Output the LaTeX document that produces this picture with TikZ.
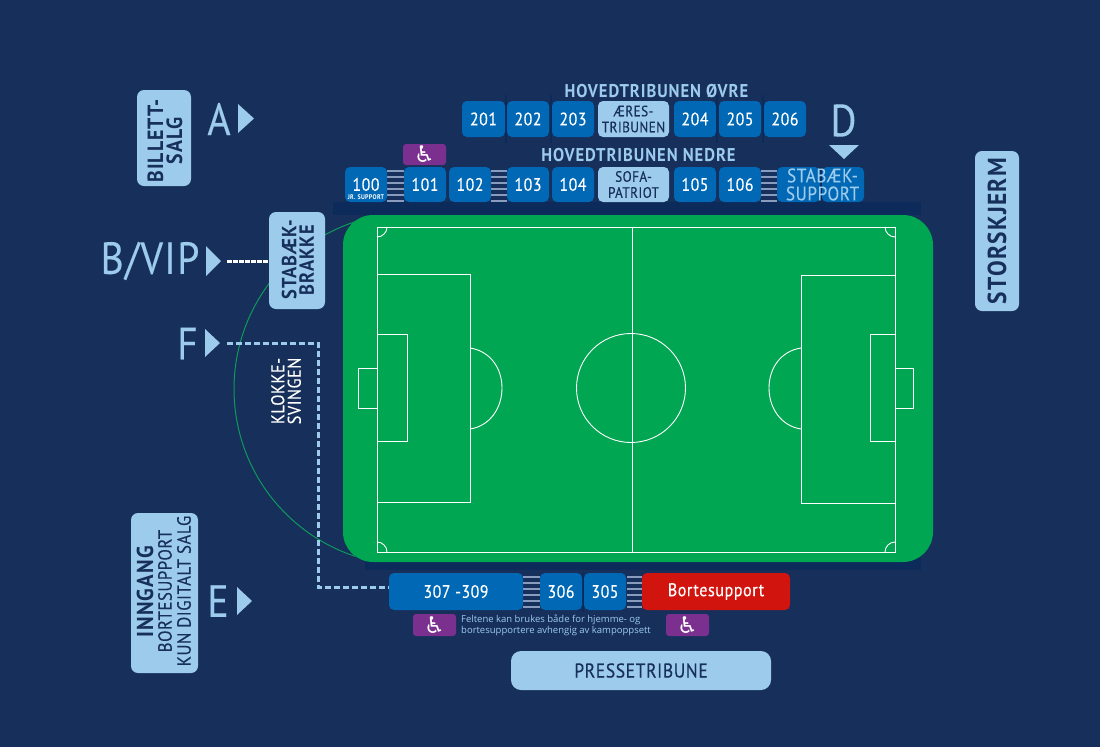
\documentclass[tikz,border=0pt]{standalone}
\usepackage{fontspec}
\setmainfont{PT Sans}
\newfontfamily\din[FakeStretch=0.88,LetterSpace=3,FakeBold=0.25]{PT Sans}
\newfontfamily\dinb[FakeStretch=0.9,LetterSpace=5,BoldFont={PT Sans Bold}]{PT Sans Bold}
\newfontfamily\icons{DejaVu Sans}
\newfontfamily\smalltxt{Open Sans}
\definecolor{bg}{HTML}{172F5B}
\definecolor{darkstrip}{HTML}{0C2A5A}
\definecolor{pitch}{HTML}{00A651}
\definecolor{arcgreen}{HTML}{0E9A5A}
\definecolor{tileblue}{HTML}{0068B4}
\definecolor{lightblue}{HTML}{9CCBEC}
\definecolor{purp}{HTML}{7B2F8E}
\definecolor{redt}{HTML}{D2140F}
\definecolor{stair}{HTML}{8A9CBE}
\newcommand{\fsz}[1]{\fontsize{#1}{#1}\selectfont}
\newcommand{\bx}[7]{% name, x0,y0,x1,y1, style, text
  \pgfmathsetmacro{\bw}{#4-#2}\pgfmathsetmacro{\bh}{#5-#3}
  \node[#6,minimum width=\bw pt,minimum height=\bh pt] (#1) at ({(#2+#4)/2},{(#3+#5)/2}) {#7};}
\newcommand{\stairs}[4]{% x0,x1,y0,y1
  \pgfmathsetmacro{\sstep}{(#4-#3)/5}
  \foreach \k in {0,...,5} {\draw[stairline] (#1,{#3+\k*\sstep}) -- (#2,{#3+\k*\sstep});}}
\tikzset{
  x=1pt,y=-1pt,
  boxbase/.style={rounded corners=5pt,inner sep=0pt,outer sep=0pt,align=center},
  tile/.style={boxbase,fill=tileblue,text=white,font=\din\fsz{18}},
  ltile/.style={boxbase,fill=lightblue,text=bg,font=\din\fsz{15}},
  sidebox/.style={boxbase,rounded corners=7pt,fill=lightblue,text=bg},
  wheel/.style={boxbase,rounded corners=3pt,fill=purp,text=white,font=\icons\fsz{23}},
  gate/.style={text=lightblue,inner sep=0pt,font=\din\fsz{45}},
  head/.style={text=lightblue,inner sep=0pt,font=\dinb\fsz{18.5}},
  fieldline/.style={draw=white,line width=0.9pt},
  stairline/.style={draw=stair,line width=1.1pt},
  dashw/.style={draw=white,line width=3pt,dash pattern=on 4.5pt off 1.5pt},
  dashb/.style={draw=lightblue,line width=3pt,dash pattern=on 6pt off 3pt},
  tri/.style={fill=lightblue},
  divider/.style={draw=darkstrip,line width=1.2pt},
}
\begin{document}
\begin{tikzpicture}
\fill[bg] (0,0) rectangle (1100,747);
\useasboundingbox (0,0) rectangle (1100,747);
% strips behind pitch
\fill[darkstrip] (333,202) rectangle (921,215);
\fill[darkstrip] (365,555) rectangle (921,570);
% curve behind the goal
\begin{scope}
\clip (200,200) rectangle (355,570);
\draw[arcgreen,line width=1pt] (410,389) circle (176);
\end{scope}
% pitch
\fill[pitch,rounded corners=30pt] (343,215) rectangle (933,562);
\draw[fieldline] (377,227) rectangle (895,552);
\draw[fieldline] (632,227) -- (632,552);
\draw[fieldline] (631,388) circle (54.5);
\draw[fieldline] (377,274) rectangle (470,502);
\draw[fieldline] (377,334) rectangle (407,441);
\draw[fieldline] (358,368) rectangle (377,408);
\draw[fieldline] (470,348) .. controls (490,351) and (502,368) .. (502,388) .. controls (502,408) and (490,426) .. (470,429);
\draw[fieldline] (801,275) rectangle (895,503);
\draw[fieldline] (870,334) rectangle (895,441);
\draw[fieldline] (895,368) rectangle (913,408);
\draw[fieldline] (801,348) .. controls (781,351) and (769,368) .. (769,388) .. controls (769,408) and (781,426) .. (801,429);
\draw[fieldline] (387,227) .. controls (387,232.5) and (382.5,237) .. (377,237);
\draw[fieldline] (885,227) .. controls (885,232.5) and (889.5,237) .. (895,237);
\draw[fieldline] (387,552) .. controls (387,546.5) and (382.5,542) .. (377,542);
\draw[fieldline] (885,552) .. controls (885,546.5) and (889.5,542) .. (895,542);
% dividers upper row
\foreach \x in {506,551,717,763} {\draw[divider] (\x,95) -- (\x,143);}
\draw[divider] (821,167) -- (821,202);
\draw[divider] (583,573) -- (583,612);
% stairs
\stairs{387}{404}{171}{201}
\stairs{491}{507}{171}{201}
\stairs{761}{777}{171}{201}
\stairs{523}{540}{577}{607}
\stairs{627}{642}{577}{607}
% heading
\node[head] (h1) at (656.5,91) {HOVEDTRIBUNEN ØVRE};
\node[head] (h2) at (638.5,155) {HOVEDTRIBUNEN NEDRE};
% upper row
\bx{t201}{462}{101}{505}{137}{tile}{201}
\bx{t202}{507}{101}{549}{137}{tile}{202}
\bx{t203}{552}{101}{594}{137}{tile}{203}
\bx{tae}{598}{101}{669}{137}{ltile}{ÆRES-\\[1pt]TRIBUNEN}
\bx{t204}{674}{101}{716}{137}{tile}{204}
\bx{t205}{719}{101}{761}{137}{tile}{205}
\bx{t206}{764}{101}{806}{137}{tile}{206}
% lower row
\bx{t100}{345}{167}{387}{202}{tile}{}
\node[text=white,inner sep=0pt,font=\din\fsz{18}] (t100a) at (366,184.5) {100};
\node[text=white,inner sep=0pt,font=\dinb\fsz{6.7}] (t100b) at (366,197) {JR. SUPPORT};
\bx{t101}{404}{167}{446}{202}{tile}{101}
\bx{t102}{449}{167}{491}{202}{tile}{102}
\bx{t103}{507}{167}{549}{202}{tile}{103}
\bx{t104}{552}{167}{594}{202}{tile}{104}
\bx{tso}{598}{167}{669}{202}{ltile}{SOFA-\\[1pt]PATRIOT}
\bx{t105}{674}{167}{716}{202}{tile}{105}
\bx{t106}{719}{167}{761}{202}{tile}{106}
\bx{tsa}{777}{167}{820}{202}{tile}{}
\bx{tsb}{822}{167}{864}{202}{tile}{}
\node[text=lightblue,inner sep=0pt,align=center,font=\din\fsz{19.5}] (tst) at (822.5,184.5) {STABÆK-\\[-1.5pt]SUPPORT};
\bx{w1}{403}{144}{446}{165}{wheel}{♿}
% bottom row
\bx{t307}{389}{573}{523}{610}{tile}{307 -309}
\bx{t306}{540}{573}{582}{610}{tile}{306}
\bx{t305}{584}{573}{626}{610}{tile}{305}
\bx{tbo}{642}{573}{790}{610}{boxbase,fill=redt,text=white,font=\din\fsz{18.3}}{Bortesupport}
\bx{w2}{413}{614}{456}{636}{wheel}{♿}
\bx{w3}{666}{614}{709}{636}{wheel}{♿}
\node[anchor=west,inner sep=0pt,align=left,text=lightblue,font=\smalltxt\fsz{9.5}] (note) at (461,625.5) {Feltene kan brukes både for hjemme- og\\[1.8pt]bortesupportere avhengig av kampoppsett};
\bx{press}{511}{651}{771}{690}{boxbase,rounded corners=10pt,fill=lightblue,text=bg,font=\din\fsz{20}}{PRESSETRIBUNE}
% side boxes
\node[sidebox,minimum width=54pt,minimum height=96pt] (bill) at (164,138) {};
\node[rotate=90,inner sep=0pt,text=bg,align=center,font=\dinb\fsz{22}] (billt) at (165,141) {BILLETT-\\[-3pt]SALG};
\node[sidebox,minimum width=56pt,minimum height=97pt] (brakke) at (297,260.5) {};
\node[rotate=90,inner sep=0pt,text=bg,align=center,font=\dinb\fsz{20.5}] (brakket) at (298,260) {STABÆK-\\[-3pt]BRAKKE};
\node[sidebox,minimum width=44pt,minimum height=160pt] (skjerm) at (997,231) {};
\node[rotate=90,inner sep=0pt,text=bg,font=\dinb\fsz{26}] (skjermt) at (997,231) {STORSKJERM};
\node[sidebox,minimum width=67pt,minimum height=160pt] (inng) at (164.5,593) {};
\node[rotate=90,inner sep=0pt,text=bg,font=\dinb\fsz{23}] (inngt1) at (145,592) {INNGANG};
\node[rotate=90,inner sep=0pt,text=bg,font=\din\fsz{19}] (inngt2) at (165,591) {BORTESUPPORT};
\node[rotate=90,inner sep=0pt,text=bg,font=\din\fsz{19}] (inngt3) at (184,591) {KUN DIGITALT SALG};
\node[rotate=90,inner sep=0pt,text=white,align=center,font=\din\fsz{18.5}] (klokke) at (286,391) {KLOKKE-\\[-2pt]SVINGEN};
% gates
\node[gate] (ga) at (219,119) {A};
\fill[tri] (238,104) -- (254,118.5) -- (238,133) -- cycle;
\node[gate] (gb) at (150,261) {B/VIP};
\fill[tri] (206,246) -- (221,261) -- (206,276) -- cycle;
\node[gate] (gf) at (187.5,343.5) {F};
\fill[tri] (205,329) -- (220,343) -- (205,357) -- cycle;
\node[gate] (ge) at (218,601) {E};
\fill[tri] (237,587) -- (252,601) -- (237,615) -- cycle;
\node[gate] (gd) at (843.5,120.5) {D};
\fill[tri] (829,145) -- (859,145) -- (844,159) -- cycle;
% connectors
\coordinate (bstart) at (227,261);
\coordinate (fstart) at (227,343);
\coordinate (fc1) at (318,343);
\coordinate (fc2) at (318,587);
\draw[dashw] (bstart) -- (brakke.west |- bstart);
\draw[line width=3pt,draw=lightblue,dash pattern=on 6pt off 3pt] (fstart) -- (fc1) -- (fc2) -- (t307.west |- fc2);
\end{tikzpicture}
\end{document}
